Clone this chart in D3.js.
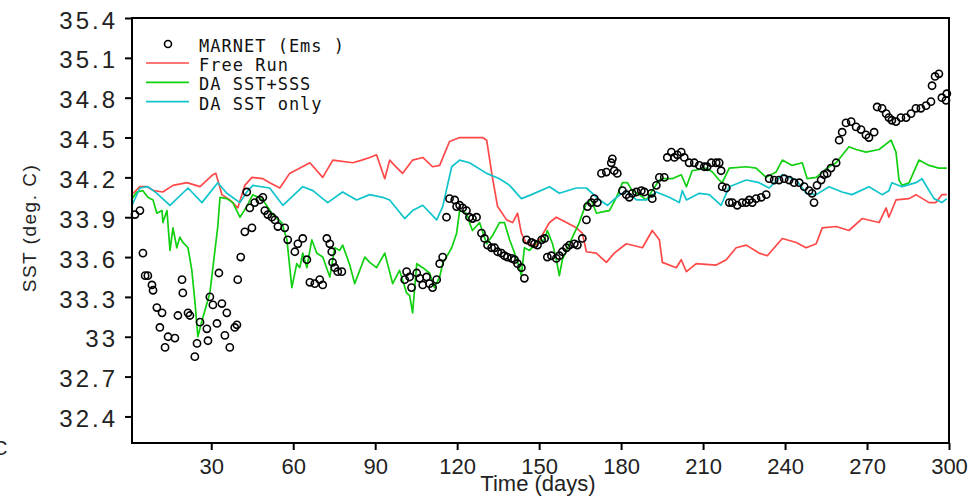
<!DOCTYPE html>
<html>
<head>
<meta charset="utf-8">
<script src="https://cdn.jsdelivr.net/npm/d3@7"></script>
<style>
  html, body { margin: 0; padding: 0; background: #fff; }
  svg { display: block; }
  .tick line { stroke: #000; stroke-width: 2; }
  .domain { display: none; }
  .ytick text { font-family: "Liberation Sans", Arial, sans-serif; font-size: 24px; letter-spacing: 3px; fill: #222; }
  .xtick text { font-family: "Liberation Sans", Arial, sans-serif; font-size: 22px; fill: #222; }
  .legend text { font-family: "DejaVu Sans Mono", monospace; font-size: 17px; fill: #111; letter-spacing: 1px; }
</style>
</head>
<body>
<svg id="chart" width="971" height="499"></svg>
<script>
// [day, SST]
const freeRun = [
  [1.4,34.08],[3.9,34.13],[6.5,34.13],[9,34.1],[12.3,34.09],[16.0,34.14],[21.1,34.16],[25.9,34.13],
  [30.6,34.22],[31.7,34.23],[33.9,34.07],[36.8,34.03],[39.7,33.97],[42.3,34.14],[44.9,34.20],
  [48.9,34.19],[51.4,34.16],[55.1,34.12],[58.7,34.23],[66.1,34.31],[70.8,34.20],[74.5,34.33],
  [81.8,34.31],[85.1,34.33],[88.0,34.35],[90.5,34.37],[93.5,34.19],[95.3,34.33],[97.1,34.29],
  [100.0,34.23],[103.7,34.33],[107.4,34.35],[111.0,34.28],[113.6,34.29],[117.2,34.47],[120.9,34.50],
  [124.5,34.50],[129.3,34.50],[130.8,34.48],[132.9,34.20],[134.8,33.98],[138.1,33.88],[140.3,33.86],
  [142.1,33.93],[143.5,33.78],[145.4,33.70],[149.0,33.69],[153.8,33.86],[156.3,33.90],[160.0,33.86],
  [163.6,33.82],[165.8,33.78],[167.3,33.64],[170.9,33.63],[174.6,33.56],[177.5,33.63],[181.9,33.70],
  [187.8,33.67],[191.4,33.80],[194.0,33.73],[195.1,33.56],[200.2,33.52],[202.0,33.58],[203.9,33.49],
  [207.5,33.55],[214.8,33.54],[218.5,33.58],[222.1,33.67],[225.8,33.69],[230.5,33.63],[233.5,33.61],
  [239.0,33.74],[244.1,33.71],[247.7,33.67],[251.4,33.70],[253.6,33.82],[258.7,33.83],[263.4,33.80],
  [268.2,33.89],[274.4,33.86],[277.0,33.97],[278.0,33.90],[280.6,34.03],[285.4,34.04],[287.9,34.07],
  [292.7,34.01],[295.2,34.01],[297.4,34.07],[299.2,34.07]
];

const daSstSss = [
  [1.0,34.04],[2.8,34.09],[5.0,34.10],[6.8,34.05],[8.7,34.03],[10.1,33.93],[12.0,33.95],[12.3,33.86],
  [13.8,33.95],[14.9,33.65],[16.0,33.82],[17.4,33.67],[18.5,33.75],[19.6,33.71],[21.5,33.67],
  [22.9,33.50],[24.0,33.27],[25.1,33.00],[26.6,33.12],[29.5,33.33],[32.4,33.83],[33.2,34.05],
  [35.7,34.04],[37.9,34.01],[40.5,33.90],[43.0,33.98],[45.2,34.07],[48.9,34.03],[52.5,33.92],
  [55.8,33.86],[57.7,33.73],[59.5,33.37],[61.3,33.55],[62.4,33.52],[63.5,33.63],[65.0,33.52],
  [66.8,33.73],[68.6,33.63],[70.8,33.60],[73.4,33.45],[75.2,33.67],[77.0,33.65],[78.1,33.69],
  [80.7,33.54],[82.5,33.40],[86.2,33.60],[88.0,33.56],[90.5,33.52],[93.5,33.63],[96.4,33.40],
  [98.9,33.50],[101.5,33.33],[102.6,33.31],[103.7,33.18],[105.2,33.55],[107.4,33.52],[109.9,33.48],
  [111.7,33.37],[113.6,33.45],[114.7,33.55],[118.0,33.67],[119.8,33.78],[120.9,33.95],[123.4,33.93],
  [124.5,33.86],[125.6,33.80],[128.2,33.86],[130.8,33.70],[132.9,33.76],[135.5,33.86],[137.3,33.86],
  [139.2,33.73],[141.0,33.63],[142.8,33.52],[143.5,33.46],[144.6,33.67],[146.5,33.65],[149.0,33.71],
  [151.9,33.73],[153.0,33.80],[154.9,33.70],[156.3,33.58],[157.4,33.46],[158.5,33.58],[160.0,33.65],
  [162.2,33.75],[164.7,33.86],[167.3,34.01],[169.1,34.03],[171.0,33.93],[173.1,33.94],[175.7,33.95],
  [178.3,34.05],[180.5,34.16],[182.3,34.16],[184.1,34.10],[186.7,34.07],[189.2,34.03],[191.4,34.10],
  [194.0,34.18],[195.1,34.19],[198.7,34.19],[202.0,34.22],[203.9,34.13],[206.0,34.25],[211.2,34.27],
  [213.4,34.24],[215.9,34.18],[217.0,34.16],[219.6,34.27],[225.8,34.28],[229.4,34.27],[233.1,34.20],
  [236.7,34.24],[239.0,34.33],[242.6,34.29],[246.3,34.31],[248.1,34.19],[251.4,34.20],[256.1,34.28],
  [258.7,34.31],[263.4,34.43],[266.0,34.41],[269.6,34.39],[274.4,34.41],[278.8,34.48],[280.6,34.39],
  [281.7,34.18],[282.8,34.14],[285.4,34.16],[289.0,34.33],[292.7,34.29],[296.3,34.27],[299.2,34.27]
];

const daSstOnly = [
  [1.0,33.99],[3.9,34.12],[6.8,34.13],[10.1,34.08],[14.9,33.99],[21.5,34.12],[26.6,34.01],[32.4,34.16],
  [35.7,34.08],[40.5,34.01],[43.0,34.09],[45.2,34.14],[51.4,34.12],[56.2,33.99],[63.5,34.13],
  [67.2,34.10],[72.6,34.01],[78.1,34.09],[83.2,34.03],[88.0,34.07],[92.7,34.05],[95.3,34.03],
  [100.8,33.89],[103.7,33.95],[107.4,33.99],[112.5,33.88],[114.7,33.98],[118.0,34.28],[120.9,34.33],
  [124.5,34.31],[130.8,34.23],[135.5,34.19],[139.2,34.14],[143.5,34.04],[147.2,34.07],[153.8,34.13],
  [157.4,34.08],[163.6,34.12],[167.3,34.12],[172.1,34.03],[175.0,33.99],[178.3,34.05],[181.9,34.10],
  [185.6,34.03],[189.2,34.03],[192.9,34.09],[197.6,34.05],[201.3,34.01],[202.4,34.10],[203.9,34.03],
  [208.6,34.08],[212.3,34.07],[216.6,33.99],[219.6,34.13],[225.8,34.18],[230.5,34.16],[234.2,34.12],
  [239.0,34.22],[244.1,34.18],[247.7,34.08],[251.4,34.07],[256.1,34.13],[260.9,34.09],[264.5,34.07],
  [270.7,34.13],[275.5,34.07],[278.0,34.10],[279.1,34.16],[282.8,34.13],[287.9,34.16],[290.1,34.19],
  [294.5,34.04],[297.4,34.01],[299.2,34.04]
];

const marnet = [
  [2.1,33.92],[3.9,33.95],[5.0,33.63],[5.8,33.46],[6.8,33.46],[8.3,33.39],[8.7,33.35],[10.1,33.22],
  [12.0,33.18],[11.2,33.07],[13.1,32.92],[14.2,33.00],[16.7,32.99],[17.8,33.16],[19.3,33.43],[19.6,33.33],
  [21.5,33.18],[22.2,33.16],[24.0,32.85],[24.8,32.95],[25.9,33.11],[28.4,33.06],[28.8,32.97],[29.5,33.30],
  [30.6,33.24],[32.1,33.10],[32.8,33.48],[33.9,33.25],[35.7,33.18],[35.0,33.01],[36.8,32.92],[38.6,33.07],
  [39.4,33.09],[39.7,33.43],[40.8,33.60],[42.3,33.79],[44.9,33.82],[43.0,34.09],[44.1,33.97],[45.9,34.01],
  [47.8,34.03],[48.9,34.05],[49.6,33.95],[50.7,33.92],[52.2,33.90],[53.3,33.88],[54.4,33.83],[56.9,33.82],
  [58.0,33.73],[60.6,33.64],[61.7,33.70],[63.5,33.74],[65.0,33.58],[66.1,33.41],[67.9,33.40],[69.7,33.43],
  [70.8,33.39],[72.3,33.74],[73.4,33.70],[74.1,33.64],[74.4,33.56],[75.2,33.52],[76.3,33.49],[77.8,33.49],
  [100.8,33.43],[101.5,33.49],[102.6,33.45],[103.3,33.37],[105.2,33.48],[106.3,33.44],[107.4,33.39],
  [108.8,33.45],[109.9,33.40],[111.0,33.37],[112.5,33.43],[113.6,33.55],[114.7,33.60],[116.1,33.90],
  [117.2,34.04],[119.1,34.03],[119.8,33.98],[120.9,33.99],[122.0,33.97],[123.4,33.95],[124.5,33.90],
  [125.6,33.89],[127.1,33.90],[128.9,33.78],[130.0,33.74],[131.1,33.69],[132.6,33.67],[133.7,33.67],
  [134.8,33.64],[136.2,33.63],[137.3,33.61],[138.4,33.60],[139.9,33.59],[141.0,33.58],[142.1,33.55],
  [143.5,33.52],[144.6,33.44],[145.4,33.73],[147.2,33.71],[148.3,33.70],[149.4,33.69],[150.9,33.73],
  [152.0,33.74],[153.0,33.60],[154.5,33.61],[156.3,33.59],[157.4,33.61],[158.5,33.64],[160.0,33.67],
  [161.1,33.69],[162.9,33.70],[164.0,33.69],[165.8,33.74],[167.3,33.88],[167.7,33.98],[169.1,34.01],
  [170.2,34.04],[171.3,34.01],[172.8,34.23],[174.6,34.24],[176.4,34.31],[176.8,34.34],[177.5,34.25],
  [178.6,34.23],[180.5,34.10],[181.9,34.07],[183.0,34.05],[184.1,34.08],[185.6,34.09],[187.4,34.10],
  [188.5,34.09],[191.1,34.08],[191.4,34.04],[192.9,34.14],[194.0,34.20],[195.8,34.20],[196.9,34.35],
  [198.4,34.39],[199.5,34.35],[200.6,34.37],[202.0,34.39],[203.1,34.35],[204.9,34.31],[206.8,34.31],
  [208.6,34.29],[210.4,34.28],[211.5,34.28],[213.0,34.31],[214.8,34.31],[215.9,34.31],[216.6,34.25],
  [217.0,34.13],[218.5,34.12],[219.6,34.01],[220.7,34.01],[222.5,33.99],[224.3,34.01],[225.8,34.01],
  [226.9,34.03],[228.0,34.01],[229.4,34.04],[231.3,34.05],[233.1,34.07],[234.2,34.19],[236.0,34.18],
  [237.8,34.18],[239.7,34.19],[241.5,34.18],[243.3,34.16],[245.2,34.16],[247.0,34.13],[248.8,34.10],
  [249.9,34.08],[250.6,34.01],[251.7,34.14],[253.2,34.18],[254.3,34.22],[255.4,34.23],[256.8,34.27],
  [258.7,34.31],[259.8,34.48],[260.9,34.54],[262.3,34.61],[264.2,34.62],[266.0,34.58],[267.8,34.56],
  [269.6,34.52],[270.7,34.50],[272.6,34.54],[273.7,34.73],[275.5,34.72],[277.0,34.68],[278.0,34.65],
  [279.1,34.63],[280.6,34.62],[282.4,34.65],[284.3,34.65],[286.1,34.68],[287.9,34.72],[289.7,34.72],
  [291.6,34.74],[293.4,34.77],[293.8,34.89],[294.9,34.96],[296.3,34.98],[297.4,34.80],[298.9,34.78],
  [299.2,34.83]
];

const xTicks = [30, 60, 90, 120, 150, 180, 210, 240, 270, 300];
const yTicks = [32.4, 32.7, 33, 33.3, 33.6, 33.9, 34.2, 34.5, 34.8, 35.1, 35.4];
const yTickLabels = ["32.4", "32.7", "33", "33.3", "33.6", "33.9", "34.2", "34.5", "34.8", "35.1", "35.4"];

const series = [
  { name: "Free Run", data: freeRun, color: "#ff4848" },
  { name: "DA SST+SSS", data: daSstSss, color: "#10d010" },
  { name: "DA SST only", data: daSstOnly, color: "#10c4cc" }
];

const svg = d3.select("#chart");
const plotL = 132, plotR = 949, plotT = 18, plotB = 443;

const x = d3.scaleLinear().domain([1, 300]).range([plotL, plotR]);
const y = d3.scaleLinear().domain([32.2, 35.4]).range([plotB, plotT]);

// axes
const yAxis = svg.append("g").attr("class", "ytick")
  .attr("transform", `translate(${plotL},0)`)
  .call(d3.axisLeft(y).tickValues(yTicks).tickSize(7).tickPadding(10)
    .tickFormat((d, i) => yTickLabels[i]));
yAxis.selectAll("text").attr("dy", "0.42em").attr("dx", "3px");

const xAxis = svg.append("g").attr("class", "xtick")
  .attr("transform", `translate(0,${plotB})`)
  .call(d3.axisBottom(x).tickValues(xTicks).tickSize(7).tickPadding(4).tickFormat(d => d));
xAxis.selectAll("text").attr("dy", "0.9em");

// lines
const line = d3.line().x(d => x(d[0])).y(d => y(d[1]));
svg.append("g").selectAll("path")
  .data(series).join("path")
  .attr("fill", "none")
  .attr("stroke", d => d.color)
  .attr("stroke-width", 1.7)
  .attr("stroke-linejoin", "round")
  .attr("d", d => line(d.data));

// observations
svg.append("g").selectAll("circle")
  .data(marnet).join("circle")
  .attr("cx", d => x(d[0]))
  .attr("cy", d => y(d[1]))
  .attr("r", 3.6)
  .attr("fill", "none")
  .attr("stroke", "#000")
  .attr("stroke-width", 1.6);

// frame
svg.append("rect")
  .attr("x", plotL).attr("y", plotT)
  .attr("width", plotR - plotL).attr("height", plotB - plotT)
  .attr("fill", "none").attr("stroke", "#000").attr("stroke-width", 2);

// legend
const lg = svg.append("g").attr("class", "legend");
lg.append("circle").attr("cx", 168).attr("cy", 44).attr("r", 3.5)
  .attr("fill", "none").attr("stroke", "#000").attr("stroke-width", 1.6);
lg.append("text").attr("x", 199).attr("y", 52).text("MARNET (Ems )");
series.forEach((s, i) => {
  const by = 71 + i * 19.3;
  lg.append("line").attr("x1", 146).attr("x2", 189)
    .attr("y1", by - 8).attr("y2", by - 8)
    .attr("stroke", s.color).attr("stroke-width", 1.7);
  lg.append("text").attr("x", 199).attr("y", by).text(s.name);
});

// axis titles
svg.append("text")
  .attr("transform", "translate(36,228) rotate(-90)")
  .attr("text-anchor", "middle")
  .style("font-family", "Liberation Sans, Arial, sans-serif")
  .style("font-size", "19px")
  .style("letter-spacing", "1.5px")
  .attr("fill", "#222")
  .text("SST (deg. C)");

svg.append("text")
  .attr("x", 538).attr("y", 491)
  .attr("text-anchor", "middle")
  .style("font-family", "Liberation Sans, Arial, sans-serif")
  .style("font-size", "22px")
  .attr("fill", "#222")
  .text("Time (days)");

svg.append("text")
  .attr("x", -7).attr("y", 455)
  .style("font-family", "Liberation Sans, Arial, sans-serif")
  .style("font-size", "20px")
  .attr("fill", "#222")
  .text("C");
</script>
</body>
</html>
